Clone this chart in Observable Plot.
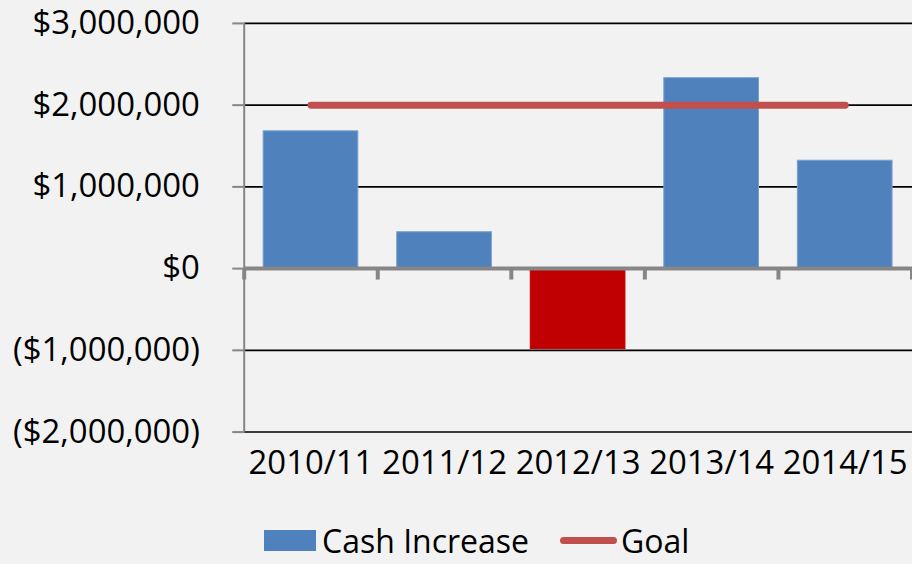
<!DOCTYPE html>
<html>
<head>
<meta charset="utf-8">
<script src="https://cdn.jsdelivr.net/npm/d3@7"></script>
<script src="https://cdn.jsdelivr.net/npm/@observablehq/plot@0.6"></script>
<style>
  html, body { margin: 0; padding: 0; background: #f2f2f2; overflow: hidden; width: 912px; height: 564px; }
  #chart { width: 912px; overflow: hidden; }
  #chart svg { display: block; }
  .legend { position: relative; height: 44px; font-family: "Open Sans", sans-serif; font-size: 32px; color: #000; }
  .legend .item { position: absolute; top: 0; height: 44px; display: flex; align-items: center; }
  .legend .sw-bar { width: 52px; height: 21px; background: #4f81bd; margin-right: 6px; }
  .legend .sw-line { width: 57px; height: 7px; border-radius: 4px; background: #c0504d; margin-right: 4px; }
</style>
</head>
<body>
<div id="chart"></div>
<div class="legend">
  <div class="item" style="left:264px"><div class="sw-bar"></div><span>Cash Increase</span></div>
  <div class="item" style="left:560px"><div class="sw-line"></div><span>Goal</span></div>
</div>
<script>
const categories = ["2010/11", "2011/12", "2012/13", "2013/14", "2014/15"];
const cashIncrease = [1680000, 445000, -985000, 2330000, 1320000];
const goal = [2000000, 2000000, 2000000, 2000000, 2000000];
const yTicks = [-2000000, -1000000, 0, 1000000, 2000000, 3000000];

const rows = categories.map((c, i) => ({category: c, value: cashIncrease[i]}));
const money = d3.format("$,.0f");
const fmt = d => d < 0 ? `(${money(-d)})` : money(d);
const gray = "#868686";

const chart = Plot.plot({
  width: 915,
  height: 520,
  marginLeft: 245,
  marginRight: 0,
  marginTop: 23,
  marginBottom: 87,
  style: {background: "#f2f2f2", fontFamily: "Open Sans, sans-serif", fontSize: "33px", color: "#000"},
  x: {domain: categories, paddingInner: 0.29, paddingOuter: 0.145, axis: null},
  y: {domain: [-2000000, 3000000], axis: null},
  marks: [
    Plot.ruleY(yTicks.filter(d => d !== 0), {stroke: "#000", strokeWidth: 1.6}),
    Plot.barY(rows, {x: "category", y: "value", fill: d => d.value < 0 ? "#c00000" : "#4f81bd",
      stroke: d => d.value < 0 ? "#c00000" : "#7aa0cf", strokeWidth: 1}),
    Plot.ruleY([0], {stroke: gray, strokeWidth: 4}),
    Plot.ruleX(categories, {x: d => d, y1: 0, y2: -140000, dx: -67, stroke: gray, strokeWidth: 4}),
    Plot.ruleX([categories[categories.length - 1]], {x: d => d, y1: 0, y2: -140000, dx: 67, stroke: gray, strokeWidth: 4}),
    Plot.ruleX([categories[0]], {x: d => d, y1: -2000000, y2: 3000000, dx: -67, stroke: gray, strokeWidth: 2}),
    Plot.axisY({ticks: yTicks, tickSize: 12, tickPadding: 33, tickFormat: fmt, stroke: gray, strokeWidth: 2, fill: "#000", fontSize: 33, label: null}),
    Plot.axisX({tickSize: 0, tickPadding: 19, fontSize: 33, fill: "#000", label: null}),
    Plot.lineY(goal, {x: categories, y: goal, stroke: "#c0504d", strokeWidth: 7, strokeLinecap: "round"})
  ]
});
document.getElementById("chart").appendChild(chart);
</script>
</body>
</html>
